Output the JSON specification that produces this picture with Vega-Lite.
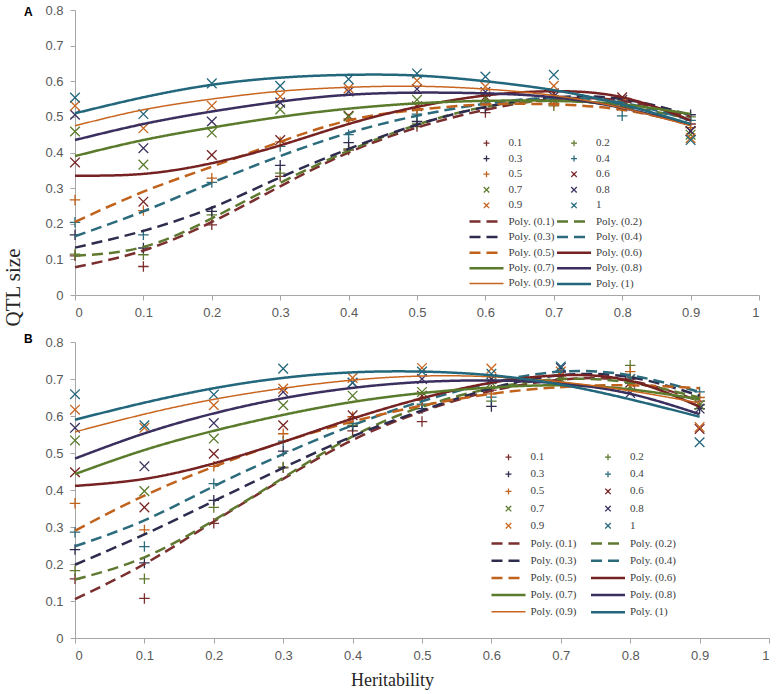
{
  "$schema": "https://vega.github.io/schema/vega-lite/v6.json",
  "padding": {"left": 2, "top": 4, "right": 5, "bottom": 5},
  "bounds": "flush",
  "spacing": 47,
  "config": {
    "view": {"stroke": null},
    "axis": {"grid": false, "domainColor": "#a6a6a6", "tickColor": "#a6a6a6", "labelColor": "#595959", "labelFont": "Liberation Sans", "labelFontSize": 13, "tickSize": 5, "titleFont": "Liberation Serif", "titleFontWeight": "normal", "titleColor": "#262626"},
    "legend": {"labelFont": "Liberation Serif", "labelFontSize": 11, "labelColor": "#404040", "symbolSize": 100, "labelOffset": 15.5, "padding": 0}
  },
  "data": {"values": [
    {"p":"A","k":"0.1","x":0,"y":0.11},{"p":"A","k":"0.2","x":0,"y":0.115},{"p":"A","k":"0.3","x":0,"y":0.169},{"p":"A","k":"0.4","x":0,"y":0.204},{"p":"A","k":"0.5","x":0,"y":0.267},{"p":"A","k":"0.6","x":0,"y":0.372},{"p":"A","k":"0.7","x":0,"y":0.459},{"p":"A","k":"0.8","x":0,"y":0.506},{"p":"A","k":"0.9","x":0,"y":0.531},{"p":"A","k":"1","x":0,"y":0.554},
    {"p":"A","k":"0.1","x":0.1,"y":0.08},{"p":"A","k":"0.2","x":0.1,"y":0.113},{"p":"A","k":"0.3","x":0.1,"y":0.132},{"p":"A","k":"0.4","x":0.1,"y":0.169},{"p":"A","k":"0.5","x":0.1,"y":0.237},{"p":"A","k":"0.6","x":0.1,"y":0.262},{"p":"A","k":"0.7","x":0.1,"y":0.366},{"p":"A","k":"0.8","x":0.1,"y":0.412},{"p":"A","k":"0.9","x":0.1,"y":0.468},{"p":"A","k":"1","x":0.1,"y":0.508},
    {"p":"A","k":"0.1","x":0.2,"y":0.197},{"p":"A","k":"0.2","x":0.2,"y":0.225},{"p":"A","k":"0.3","x":0.2,"y":0.235},{"p":"A","k":"0.4","x":0.2,"y":0.316},{"p":"A","k":"0.5","x":0.2,"y":0.328},{"p":"A","k":"0.6","x":0.2,"y":0.393},{"p":"A","k":"0.7","x":0.2,"y":0.456},{"p":"A","k":"0.8","x":0.2,"y":0.487},{"p":"A","k":"0.9","x":0.2,"y":0.531},{"p":"A","k":"1","x":0.2,"y":0.594},
    {"p":"A","k":"0.1","x":0.3,"y":0.333},{"p":"A","k":"0.2","x":0.3,"y":0.342},{"p":"A","k":"0.3","x":0.3,"y":0.364},{"p":"A","k":"0.4","x":0.3,"y":0.417},{"p":"A","k":"0.5","x":0.3,"y":0.43},{"p":"A","k":"0.6","x":0.3,"y":0.435},{"p":"A","k":"0.7","x":0.3,"y":0.521},{"p":"A","k":"0.8","x":0.3,"y":0.54},{"p":"A","k":"0.9","x":0.3,"y":0.557},{"p":"A","k":"1","x":0.3,"y":0.587},
    {"p":"A","k":"0.1","x":0.4,"y":0.407},{"p":"A","k":"0.2","x":0.4,"y":0.41},{"p":"A","k":"0.3","x":0.4,"y":0.428},{"p":"A","k":"0.4","x":0.4,"y":0.45},{"p":"A","k":"0.5","x":0.4,"y":0.494},{"p":"A","k":"0.6","x":0.4,"y":0.503},{"p":"A","k":"0.7","x":0.4,"y":0.501},{"p":"A","k":"0.8","x":0.4,"y":0.571},{"p":"A","k":"0.9","x":0.4,"y":0.58},{"p":"A","k":"1","x":0.4,"y":0.606},
    {"p":"A","k":"0.1","x":0.5,"y":0.473},{"p":"A","k":"0.2","x":0.5,"y":0.48},{"p":"A","k":"0.3","x":0.5,"y":0.487},{"p":"A","k":"0.4","x":0.5,"y":0.508},{"p":"A","k":"0.5","x":0.5,"y":0.52},{"p":"A","k":"0.6","x":0.5,"y":0.53},{"p":"A","k":"0.7","x":0.5,"y":0.548},{"p":"A","k":"0.8","x":0.5,"y":0.578},{"p":"A","k":"0.9","x":0.5,"y":0.602},{"p":"A","k":"1","x":0.5,"y":0.622},
    {"p":"A","k":"0.1","x":0.6,"y":0.512},{"p":"A","k":"0.2","x":0.6,"y":0.536},{"p":"A","k":"0.3","x":0.6,"y":0.524},{"p":"A","k":"0.4","x":0.6,"y":0.543},{"p":"A","k":"0.5","x":0.6,"y":0.538},{"p":"A","k":"0.6","x":0.6,"y":0.557},{"p":"A","k":"0.7","x":0.6,"y":0.552},{"p":"A","k":"0.8","x":0.6,"y":0.57},{"p":"A","k":"0.9","x":0.6,"y":0.585},{"p":"A","k":"1","x":0.6,"y":0.613},
    {"p":"A","k":"0.1","x":0.7,"y":0.543},{"p":"A","k":"0.2","x":0.7,"y":0.531},{"p":"A","k":"0.3","x":0.7,"y":0.548},{"p":"A","k":"0.4","x":0.7,"y":0.557},{"p":"A","k":"0.5","x":0.7,"y":0.538},{"p":"A","k":"0.6","x":0.7,"y":0.566},{"p":"A","k":"0.7","x":0.7,"y":0.548},{"p":"A","k":"0.8","x":0.7,"y":0.557},{"p":"A","k":"0.9","x":0.7,"y":0.587},{"p":"A","k":"1","x":0.7,"y":0.618},
    {"p":"A","k":"0.1","x":0.8,"y":0.538},{"p":"A","k":"0.2","x":0.8,"y":0.529},{"p":"A","k":"0.3","x":0.8,"y":0.543},{"p":"A","k":"0.4","x":0.8,"y":0.503},{"p":"A","k":"0.5","x":0.8,"y":0.534},{"p":"A","k":"0.6","x":0.8,"y":0.555},{"p":"A","k":"0.7","x":0.8,"y":0.536},{"p":"A","k":"0.8","x":0.8,"y":0.548},{"p":"A","k":"0.9","x":0.8,"y":0.543},{"p":"A","k":"1","x":0.8,"y":0.531},
    {"p":"A","k":"0.1","x":0.9,"y":0.48},{"p":"A","k":"0.2","x":0.9,"y":0.5},{"p":"A","k":"0.3","x":0.9,"y":0.506},{"p":"A","k":"0.4","x":0.9,"y":0.49},{"p":"A","k":"0.5","x":0.9,"y":0.47},{"p":"A","k":"0.6","x":0.9,"y":0.46},{"p":"A","k":"0.7","x":0.9,"y":0.45},{"p":"A","k":"0.8","x":0.9,"y":0.46},{"p":"A","k":"0.9","x":0.9,"y":0.44},{"p":"A","k":"1","x":0.9,"y":0.435},

    {"p":"A","k":"Poly. (0.1)","x":0,"y":0.078},{"p":"A","k":"Poly. (0.1)","x":0.1,"y":0.125},{"p":"A","k":"Poly. (0.1)","x":0.2,"y":0.205},{"p":"A","k":"Poly. (0.1)","x":0.3,"y":0.305},{"p":"A","k":"Poly. (0.1)","x":0.4,"y":0.4},{"p":"A","k":"Poly. (0.1)","x":0.5,"y":0.47},{"p":"A","k":"Poly. (0.1)","x":0.6,"y":0.52},{"p":"A","k":"Poly. (0.1)","x":0.7,"y":0.55},{"p":"A","k":"Poly. (0.1)","x":0.8,"y":0.545},{"p":"A","k":"Poly. (0.1)","x":0.9,"y":0.5},
    {"p":"A","k":"Poly. (0.2)","x":0,"y":0.11},{"p":"A","k":"Poly. (0.2)","x":0.1,"y":0.135},{"p":"A","k":"Poly. (0.2)","x":0.2,"y":0.215},{"p":"A","k":"Poly. (0.2)","x":0.3,"y":0.315},{"p":"A","k":"Poly. (0.2)","x":0.4,"y":0.405},{"p":"A","k":"Poly. (0.2)","x":0.5,"y":0.478},{"p":"A","k":"Poly. (0.2)","x":0.6,"y":0.528},{"p":"A","k":"Poly. (0.2)","x":0.7,"y":0.545},{"p":"A","k":"Poly. (0.2)","x":0.8,"y":0.53},{"p":"A","k":"Poly. (0.2)","x":0.9,"y":0.495},
    {"p":"A","k":"Poly. (0.3)","x":0,"y":0.133},{"p":"A","k":"Poly. (0.3)","x":0.1,"y":0.18},{"p":"A","k":"Poly. (0.3)","x":0.2,"y":0.245},{"p":"A","k":"Poly. (0.3)","x":0.3,"y":0.33},{"p":"A","k":"Poly. (0.3)","x":0.4,"y":0.41},{"p":"A","k":"Poly. (0.3)","x":0.5,"y":0.478},{"p":"A","k":"Poly. (0.3)","x":0.6,"y":0.528},{"p":"A","k":"Poly. (0.3)","x":0.7,"y":0.555},{"p":"A","k":"Poly. (0.3)","x":0.8,"y":0.55},{"p":"A","k":"Poly. (0.3)","x":0.9,"y":0.505},
    {"p":"A","k":"Poly. (0.4)","x":0,"y":0.165},{"p":"A","k":"Poly. (0.4)","x":0.1,"y":0.235},{"p":"A","k":"Poly. (0.4)","x":0.2,"y":0.315},{"p":"A","k":"Poly. (0.4)","x":0.3,"y":0.39},{"p":"A","k":"Poly. (0.4)","x":0.4,"y":0.455},{"p":"A","k":"Poly. (0.4)","x":0.5,"y":0.503},{"p":"A","k":"Poly. (0.4)","x":0.6,"y":0.537},{"p":"A","k":"Poly. (0.4)","x":0.7,"y":0.553},{"p":"A","k":"Poly. (0.4)","x":0.8,"y":0.54},{"p":"A","k":"Poly. (0.4)","x":0.9,"y":0.49},
    {"p":"A","k":"Poly. (0.5)","x":0,"y":0.205},{"p":"A","k":"Poly. (0.5)","x":0.1,"y":0.29},{"p":"A","k":"Poly. (0.5)","x":0.2,"y":0.36},{"p":"A","k":"Poly. (0.5)","x":0.3,"y":0.43},{"p":"A","k":"Poly. (0.5)","x":0.4,"y":0.49},{"p":"A","k":"Poly. (0.5)","x":0.5,"y":0.52},{"p":"A","k":"Poly. (0.5)","x":0.6,"y":0.535},{"p":"A","k":"Poly. (0.5)","x":0.7,"y":0.535},{"p":"A","k":"Poly. (0.5)","x":0.8,"y":0.52},{"p":"A","k":"Poly. (0.5)","x":0.9,"y":0.48},
    {"p":"A","k":"Poly. (0.6)","x":0,"y":0.335},{"p":"A","k":"Poly. (0.6)","x":0.1,"y":0.34},{"p":"A","k":"Poly. (0.6)","x":0.2,"y":0.37},{"p":"A","k":"Poly. (0.6)","x":0.3,"y":0.42},{"p":"A","k":"Poly. (0.6)","x":0.4,"y":0.48},{"p":"A","k":"Poly. (0.6)","x":0.5,"y":0.528},{"p":"A","k":"Poly. (0.6)","x":0.6,"y":0.56},{"p":"A","k":"Poly. (0.6)","x":0.7,"y":0.572},{"p":"A","k":"Poly. (0.6)","x":0.8,"y":0.555},{"p":"A","k":"Poly. (0.6)","x":0.9,"y":0.49},
    {"p":"A","k":"Poly. (0.7)","x":0,"y":0.39},{"p":"A","k":"Poly. (0.7)","x":0.1,"y":0.435},{"p":"A","k":"Poly. (0.7)","x":0.2,"y":0.47},{"p":"A","k":"Poly. (0.7)","x":0.3,"y":0.5},{"p":"A","k":"Poly. (0.7)","x":0.4,"y":0.523},{"p":"A","k":"Poly. (0.7)","x":0.5,"y":0.538},{"p":"A","k":"Poly. (0.7)","x":0.6,"y":0.545},{"p":"A","k":"Poly. (0.7)","x":0.7,"y":0.545},{"p":"A","k":"Poly. (0.7)","x":0.8,"y":0.535},{"p":"A","k":"Poly. (0.7)","x":0.9,"y":0.508},
    {"p":"A","k":"Poly. (0.8)","x":0,"y":0.435},{"p":"A","k":"Poly. (0.8)","x":0.1,"y":0.48},{"p":"A","k":"Poly. (0.8)","x":0.2,"y":0.515},{"p":"A","k":"Poly. (0.8)","x":0.3,"y":0.543},{"p":"A","k":"Poly. (0.8)","x":0.4,"y":0.562},{"p":"A","k":"Poly. (0.8)","x":0.5,"y":0.568},{"p":"A","k":"Poly. (0.8)","x":0.6,"y":0.566},{"p":"A","k":"Poly. (0.8)","x":0.7,"y":0.555},{"p":"A","k":"Poly. (0.8)","x":0.8,"y":0.525},{"p":"A","k":"Poly. (0.8)","x":0.9,"y":0.478},
    {"p":"A","k":"Poly. (0.9)","x":0,"y":0.475},{"p":"A","k":"Poly. (0.9)","x":0.1,"y":0.52},{"p":"A","k":"Poly. (0.9)","x":0.2,"y":0.55},{"p":"A","k":"Poly. (0.9)","x":0.3,"y":0.572},{"p":"A","k":"Poly. (0.9)","x":0.4,"y":0.583},{"p":"A","k":"Poly. (0.9)","x":0.5,"y":0.586},{"p":"A","k":"Poly. (0.9)","x":0.6,"y":0.578},{"p":"A","k":"Poly. (0.9)","x":0.7,"y":0.56},{"p":"A","k":"Poly. (0.9)","x":0.8,"y":0.525},{"p":"A","k":"Poly. (0.9)","x":0.9,"y":0.475},
    {"p":"A","k":"Poly. (1)","x":0,"y":0.51},{"p":"A","k":"Poly. (1)","x":0.1,"y":0.555},{"p":"A","k":"Poly. (1)","x":0.2,"y":0.59},{"p":"A","k":"Poly. (1)","x":0.3,"y":0.61},{"p":"A","k":"Poly. (1)","x":0.4,"y":0.618},{"p":"A","k":"Poly. (1)","x":0.5,"y":0.616},{"p":"A","k":"Poly. (1)","x":0.6,"y":0.6},{"p":"A","k":"Poly. (1)","x":0.7,"y":0.575},{"p":"A","k":"Poly. (1)","x":0.8,"y":0.535},{"p":"A","k":"Poly. (1)","x":0.9,"y":0.48},

    {"p":"B","k":"0.1","x":0,"y":0.16},{"p":"B","k":"0.2","x":0,"y":0.182},{"p":"B","k":"0.3","x":0,"y":0.239},{"p":"B","k":"0.4","x":0,"y":0.286},{"p":"B","k":"0.5","x":0,"y":0.364},{"p":"B","k":"0.6","x":0,"y":0.448},{"p":"B","k":"0.7","x":0,"y":0.534},{"p":"B","k":"0.8","x":0,"y":0.568},{"p":"B","k":"0.9","x":0,"y":0.617},{"p":"B","k":"1","x":0,"y":0.659},
    {"p":"B","k":"0.1","x":0.1,"y":0.107},{"p":"B","k":"0.2","x":0.1,"y":0.16},{"p":"B","k":"0.3","x":0.1,"y":0.203},{"p":"B","k":"0.4","x":0.1,"y":0.247},{"p":"B","k":"0.5","x":0.1,"y":0.292},{"p":"B","k":"0.6","x":0.1,"y":0.353},{"p":"B","k":"0.7","x":0.1,"y":0.397},{"p":"B","k":"0.8","x":0.1,"y":0.464},{"p":"B","k":"0.9","x":0.1,"y":0.568},{"p":"B","k":"1","x":0.1,"y":0.575},
    {"p":"B","k":"0.1","x":0.2,"y":0.31},{"p":"B","k":"0.2","x":0.2,"y":0.353},{"p":"B","k":"0.3","x":0.2,"y":0.372},{"p":"B","k":"0.4","x":0.2,"y":0.417},{"p":"B","k":"0.5","x":0.2,"y":0.464},{"p":"B","k":"0.6","x":0.2,"y":0.498},{"p":"B","k":"0.7","x":0.2,"y":0.539},{"p":"B","k":"0.8","x":0.2,"y":0.581},{"p":"B","k":"0.9","x":0.2,"y":0.629},{"p":"B","k":"1","x":0.2,"y":0.658},
    {"p":"B","k":"0.1","x":0.3,"y":0.46},{"p":"B","k":"0.2","x":0.3,"y":0.462},{"p":"B","k":"0.3","x":0.3,"y":0.505},{"p":"B","k":"0.4","x":0.3,"y":0.532},{"p":"B","k":"0.5","x":0.3,"y":0.552},{"p":"B","k":"0.6","x":0.3,"y":0.575},{"p":"B","k":"0.7","x":0.3,"y":0.629},{"p":"B","k":"0.8","x":0.3,"y":0.665},{"p":"B","k":"0.9","x":0.3,"y":0.674},{"p":"B","k":"1","x":0.3,"y":0.728},
    {"p":"B","k":"0.1","x":0.4,"y":0.56},{"p":"B","k":"0.2","x":0.4,"y":0.575},{"p":"B","k":"0.3","x":0.4,"y":0.572},{"p":"B","k":"0.4","x":0.4,"y":0.58},{"p":"B","k":"0.5","x":0.4,"y":0.598},{"p":"B","k":"0.6","x":0.4,"y":0.602},{"p":"B","k":"0.7","x":0.4,"y":0.655},{"p":"B","k":"0.8","x":0.4,"y":0.69},{"p":"B","k":"0.9","x":0.4,"y":0.703},{"p":"B","k":"1","x":0.4,"y":0.69},
    {"p":"B","k":"0.1","x":0.5,"y":0.585},{"p":"B","k":"0.2","x":0.5,"y":0.63},{"p":"B","k":"0.3","x":0.5,"y":0.62},{"p":"B","k":"0.4","x":0.5,"y":0.632},{"p":"B","k":"0.5","x":0.5,"y":0.642},{"p":"B","k":"0.6","x":0.5,"y":0.655},{"p":"B","k":"0.7","x":0.5,"y":0.665},{"p":"B","k":"0.8","x":0.5,"y":0.7},{"p":"B","k":"0.9","x":0.5,"y":0.73},{"p":"B","k":"1","x":0.5,"y":0.72},
    {"p":"B","k":"0.1","x":0.6,"y":0.67},{"p":"B","k":"0.2","x":0.6,"y":0.64},{"p":"B","k":"0.3","x":0.6,"y":0.626},{"p":"B","k":"0.4","x":0.6,"y":0.651},{"p":"B","k":"0.5","x":0.6,"y":0.66},{"p":"B","k":"0.6","x":0.6,"y":0.7},{"p":"B","k":"0.7","x":0.6,"y":0.69},{"p":"B","k":"0.8","x":0.6,"y":0.7},{"p":"B","k":"0.9","x":0.6,"y":0.728},{"p":"B","k":"1","x":0.6,"y":0.714},
    {"p":"B","k":"0.1","x":0.7,"y":0.69},{"p":"B","k":"0.2","x":0.7,"y":0.69},{"p":"B","k":"0.3","x":0.7,"y":0.7},{"p":"B","k":"0.4","x":0.7,"y":0.72},{"p":"B","k":"0.5","x":0.7,"y":0.69},{"p":"B","k":"0.6","x":0.7,"y":0.71},{"p":"B","k":"0.7","x":0.7,"y":0.7},{"p":"B","k":"0.8","x":0.7,"y":0.73},{"p":"B","k":"0.9","x":0.7,"y":0.72},{"p":"B","k":"1","x":0.7,"y":0.734},
    {"p":"B","k":"0.1","x":0.8,"y":0.7},{"p":"B","k":"0.2","x":0.8,"y":0.737},{"p":"B","k":"0.3","x":0.8,"y":0.69},{"p":"B","k":"0.4","x":0.8,"y":0.705},{"p":"B","k":"0.5","x":0.8,"y":0.72},{"p":"B","k":"0.6","x":0.8,"y":0.69},{"p":"B","k":"0.7","x":0.8,"y":0.68},{"p":"B","k":"0.8","x":0.8,"y":0.662},{"p":"B","k":"0.9","x":0.8,"y":0.7},{"p":"B","k":"1","x":0.8,"y":0.7},
    {"p":"B","k":"0.1","x":0.9,"y":0.64},{"p":"B","k":"0.2","x":0.9,"y":0.63},{"p":"B","k":"0.3","x":0.9,"y":0.62},{"p":"B","k":"0.4","x":0.9,"y":0.665},{"p":"B","k":"0.5","x":0.9,"y":0.65},{"p":"B","k":"0.6","x":0.9,"y":0.565},{"p":"B","k":"0.7","x":0.9,"y":0.63},{"p":"B","k":"0.8","x":0.9,"y":0.62},{"p":"B","k":"0.9","x":0.9,"y":0.57},{"p":"B","k":"1","x":0.9,"y":0.529},

    {"p":"B","k":"Poly. (0.1)","x":0,"y":0.105},{"p":"B","k":"Poly. (0.1)","x":0.1,"y":0.2},{"p":"B","k":"Poly. (0.1)","x":0.2,"y":0.315},{"p":"B","k":"Poly. (0.1)","x":0.3,"y":0.43},{"p":"B","k":"Poly. (0.1)","x":0.4,"y":0.535},{"p":"B","k":"Poly. (0.1)","x":0.5,"y":0.612},{"p":"B","k":"Poly. (0.1)","x":0.6,"y":0.668},{"p":"B","k":"Poly. (0.1)","x":0.7,"y":0.698},{"p":"B","k":"Poly. (0.1)","x":0.8,"y":0.695},{"p":"B","k":"Poly. (0.1)","x":0.9,"y":0.64},
    {"p":"B","k":"Poly. (0.2)","x":0,"y":0.158},{"p":"B","k":"Poly. (0.2)","x":0.1,"y":0.218},{"p":"B","k":"Poly. (0.2)","x":0.2,"y":0.318},{"p":"B","k":"Poly. (0.2)","x":0.3,"y":0.433},{"p":"B","k":"Poly. (0.2)","x":0.4,"y":0.545},{"p":"B","k":"Poly. (0.2)","x":0.5,"y":0.625},{"p":"B","k":"Poly. (0.2)","x":0.6,"y":0.675},{"p":"B","k":"Poly. (0.2)","x":0.7,"y":0.7},{"p":"B","k":"Poly. (0.2)","x":0.8,"y":0.69},{"p":"B","k":"Poly. (0.2)","x":0.9,"y":0.65},
    {"p":"B","k":"Poly. (0.3)","x":0,"y":0.198},{"p":"B","k":"Poly. (0.3)","x":0.1,"y":0.28},{"p":"B","k":"Poly. (0.3)","x":0.2,"y":0.37},{"p":"B","k":"Poly. (0.3)","x":0.3,"y":0.46},{"p":"B","k":"Poly. (0.3)","x":0.4,"y":0.545},{"p":"B","k":"Poly. (0.3)","x":0.5,"y":0.615},{"p":"B","k":"Poly. (0.3)","x":0.6,"y":0.675},{"p":"B","k":"Poly. (0.3)","x":0.7,"y":0.71},{"p":"B","k":"Poly. (0.3)","x":0.8,"y":0.705},{"p":"B","k":"Poly. (0.3)","x":0.9,"y":0.655},
    {"p":"B","k":"Poly. (0.4)","x":0,"y":0.248},{"p":"B","k":"Poly. (0.4)","x":0.1,"y":0.318},{"p":"B","k":"Poly. (0.4)","x":0.2,"y":0.41},{"p":"B","k":"Poly. (0.4)","x":0.3,"y":0.497},{"p":"B","k":"Poly. (0.4)","x":0.4,"y":0.575},{"p":"B","k":"Poly. (0.4)","x":0.5,"y":0.64},{"p":"B","k":"Poly. (0.4)","x":0.6,"y":0.69},{"p":"B","k":"Poly. (0.4)","x":0.7,"y":0.72},{"p":"B","k":"Poly. (0.4)","x":0.8,"y":0.71},{"p":"B","k":"Poly. (0.4)","x":0.9,"y":0.665},
    {"p":"B","k":"Poly. (0.5)","x":0,"y":0.29},{"p":"B","k":"Poly. (0.5)","x":0.1,"y":0.385},{"p":"B","k":"Poly. (0.5)","x":0.2,"y":0.463},{"p":"B","k":"Poly. (0.5)","x":0.3,"y":0.53},{"p":"B","k":"Poly. (0.5)","x":0.4,"y":0.585},{"p":"B","k":"Poly. (0.5)","x":0.5,"y":0.628},{"p":"B","k":"Poly. (0.5)","x":0.6,"y":0.66},{"p":"B","k":"Poly. (0.5)","x":0.7,"y":0.678},{"p":"B","k":"Poly. (0.5)","x":0.8,"y":0.683},{"p":"B","k":"Poly. (0.5)","x":0.9,"y":0.675},
    {"p":"B","k":"Poly. (0.6)","x":0,"y":0.411},{"p":"B","k":"Poly. (0.6)","x":0.1,"y":0.43},{"p":"B","k":"Poly. (0.6)","x":0.2,"y":0.472},{"p":"B","k":"Poly. (0.6)","x":0.3,"y":0.53},{"p":"B","k":"Poly. (0.6)","x":0.4,"y":0.593},{"p":"B","k":"Poly. (0.6)","x":0.5,"y":0.648},{"p":"B","k":"Poly. (0.6)","x":0.6,"y":0.69},{"p":"B","k":"Poly. (0.6)","x":0.7,"y":0.71},{"p":"B","k":"Poly. (0.6)","x":0.8,"y":0.695},{"p":"B","k":"Poly. (0.6)","x":0.9,"y":0.625},
    {"p":"B","k":"Poly. (0.7)","x":0,"y":0.443},{"p":"B","k":"Poly. (0.7)","x":0.1,"y":0.508},{"p":"B","k":"Poly. (0.7)","x":0.2,"y":0.56},{"p":"B","k":"Poly. (0.7)","x":0.3,"y":0.603},{"p":"B","k":"Poly. (0.7)","x":0.4,"y":0.638},{"p":"B","k":"Poly. (0.7)","x":0.5,"y":0.662},{"p":"B","k":"Poly. (0.7)","x":0.6,"y":0.677},{"p":"B","k":"Poly. (0.7)","x":0.7,"y":0.683},{"p":"B","k":"Poly. (0.7)","x":0.8,"y":0.672},{"p":"B","k":"Poly. (0.7)","x":0.9,"y":0.645},
    {"p":"B","k":"Poly. (0.8)","x":0,"y":0.485},{"p":"B","k":"Poly. (0.8)","x":0.1,"y":0.553},{"p":"B","k":"Poly. (0.8)","x":0.2,"y":0.607},{"p":"B","k":"Poly. (0.8)","x":0.3,"y":0.648},{"p":"B","k":"Poly. (0.8)","x":0.4,"y":0.676},{"p":"B","k":"Poly. (0.8)","x":0.5,"y":0.692},{"p":"B","k":"Poly. (0.8)","x":0.6,"y":0.696},{"p":"B","k":"Poly. (0.8)","x":0.7,"y":0.688},{"p":"B","k":"Poly. (0.8)","x":0.8,"y":0.66},{"p":"B","k":"Poly. (0.8)","x":0.9,"y":0.605},
    {"p":"B","k":"Poly. (0.9)","x":0,"y":0.557},{"p":"B","k":"Poly. (0.9)","x":0.1,"y":0.605},{"p":"B","k":"Poly. (0.9)","x":0.2,"y":0.645},{"p":"B","k":"Poly. (0.9)","x":0.3,"y":0.675},{"p":"B","k":"Poly. (0.9)","x":0.4,"y":0.697},{"p":"B","k":"Poly. (0.9)","x":0.5,"y":0.708},{"p":"B","k":"Poly. (0.9)","x":0.6,"y":0.706},{"p":"B","k":"Poly. (0.9)","x":0.7,"y":0.692},{"p":"B","k":"Poly. (0.9)","x":0.8,"y":0.668},{"p":"B","k":"Poly. (0.9)","x":0.9,"y":0.635},
    {"p":"B","k":"Poly. (1)","x":0,"y":0.59},{"p":"B","k":"Poly. (1)","x":0.1,"y":0.636},{"p":"B","k":"Poly. (1)","x":0.2,"y":0.675},{"p":"B","k":"Poly. (1)","x":0.3,"y":0.703},{"p":"B","k":"Poly. (1)","x":0.4,"y":0.718},{"p":"B","k":"Poly. (1)","x":0.5,"y":0.72},{"p":"B","k":"Poly. (1)","x":0.6,"y":0.71},{"p":"B","k":"Poly. (1)","x":0.7,"y":0.685},{"p":"B","k":"Poly. (1)","x":0.8,"y":0.645},{"p":"B","k":"Poly. (1)","x":0.9,"y":0.598}
  ]},
  "resolve": {
    "scale": {"x": "independent", "y": "independent", "color": "independent", "shape": "independent", "strokeDash": "independent", "strokeWidth": "independent"},
    "legend": {"color": "independent", "shape": "independent", "strokeDash": "independent", "strokeWidth": "independent"}
  },
  "vconcat": [
    {
      "width": 684,
      "height": 285,
      "title": {"text": "A", "anchor": "start", "frame": "group", "dx": -51, "dy": 20, "offset": 0, "baseline": "middle", "fontSize": 12, "fontWeight": "bold", "font": "Liberation Sans", "color": "#000000"},
      "transform": [{"filter": "datum.p === 'A'"}],
      "encoding": {
        "x": {"field": "x", "type": "quantitative", "scale": {"domain": [0, 1], "nice": false}, "axis": {"title": null, "values": [0, 0.1, 0.2, 0.3, 0.4, 0.5, 0.6, 0.7, 0.8, 0.9, 1], "format": "~g", "labelPadding": 6}},
        "y": {"field": "y", "type": "quantitative", "scale": {"domain": [0, 0.8], "nice": false}, "axis": {"title": "QTL size", "values": [0, 0.1, 0.2, 0.3, 0.4, 0.5, 0.6, 0.7, 0.8], "format": "~g", "labelPadding": 7, "titleX": -62, "titleY": 277, "titleAngle": 270, "titleBaseline": "middle", "titleAlign": "center", "titleFontSize": 21}},
        "color": {"field": "k", "type": "nominal", "scale": {"domain": ["0.1","0.3","0.5","0.7","0.9","Poly. (0.1)","Poly. (0.3)","Poly. (0.5)","Poly. (0.7)","Poly. (0.9)","0.2","0.4","0.6","0.8","1","Poly. (0.2)","Poly. (0.4)","Poly. (0.6)","Poly. (0.8)","Poly. (1)"], "range": ["#7a2e2e","#2e2c4e","#c0621c","#5b7b2c","#c8651f","#7a2e2e","#2e2c4e","#c0621c","#5b7b2c","#c8651f","#5f7a30","#2b6b7c","#762222","#3a2f5e","#23677c","#5f7a30","#2b6b7c","#762222","#3a2f5e","#23677c"]}, "legend": {"title": null, "orient": "none", "legendX": 405, "legendY": 127, "columns": 2, "rowPadding": 3.6, "columnPadding": -3.5, "symbolSize": 100, "labelOffset": 15.5}},
        "strokeWidth": {"field": "k", "type": "nominal", "scale": {"type": "ordinal", "domain": ["0.1","0.3","0.5","0.7","0.9","Poly. (0.1)","Poly. (0.3)","Poly. (0.5)","Poly. (0.7)","Poly. (0.9)","0.2","0.4","0.6","0.8","1","Poly. (0.2)","Poly. (0.4)","Poly. (0.6)","Poly. (0.8)","Poly. (1)"], "range": [1.3,1.3,1.3,1.3,1.3,2.5,2.5,2.5,2.5,1.5,1.3,1.3,1.3,1.3,1.3,2.5,2.5,2.5,2.5,2.5]}}
      },
      "layer": [
        {
          "transform": [{"filter": "indexof(datum.k, 'Poly') < 0"}],
          "mark": {"type": "point", "filled": false, "size": 306, "opacity": 1},
          "encoding": {
            "shape": {"field": "k", "type": "nominal", "scale": {"domain": ["0.1","0.3","0.5","0.7","0.9","Poly. (0.1)","Poly. (0.3)","Poly. (0.5)","Poly. (0.7)","Poly. (0.9)","0.2","0.4","0.6","0.8","1","Poly. (0.2)","Poly. (0.4)","Poly. (0.6)","Poly. (0.8)","Poly. (1)"], "range": ["M-0.6,0H0.6M0,-0.6V0.6","M-0.6,0H0.6M0,-0.6V0.6","M-0.6,0H0.6M0,-0.6V0.6","M-0.55,-0.55L0.55,0.55M0.55,-0.55L-0.55,0.55","M-0.55,-0.55L0.55,0.55M0.55,-0.55L-0.55,0.55","M-3.4,0H3.4","M-3.4,0H3.4","M-3.4,0H3.4","M-3.4,0H3.4","M-3.4,0H3.4","M-0.6,0H0.6M0,-0.6V0.6","M-0.6,0H0.6M0,-0.6V0.6","M-0.55,-0.55L0.55,0.55M0.55,-0.55L-0.55,0.55","M-0.55,-0.55L0.55,0.55M0.55,-0.55L-0.55,0.55","M-0.55,-0.55L0.55,0.55M0.55,-0.55L-0.55,0.55","M-3.4,0H3.4","M-3.4,0H3.4","M-3.4,0H3.4","M-3.4,0H3.4","M-3.4,0H3.4"]}}
          }
        },
        {
          "transform": [{"filter": "indexof(datum.k, 'Poly') >= 0"}],
          "mark": {"type": "line", "interpolate": "natural"},
          "encoding": {
            "strokeDash": {"field": "k", "type": "nominal", "scale": {"domain": ["0.1","0.3","0.5","0.7","0.9","Poly. (0.1)","Poly. (0.3)","Poly. (0.5)","Poly. (0.7)","Poly. (0.9)","0.2","0.4","0.6","0.8","1","Poly. (0.2)","Poly. (0.4)","Poly. (0.6)","Poly. (0.8)","Poly. (1)"], "range": [[1,0],[1,0],[1,0],[1,0],[1,0],[11,6],[11,6],[11,6],[1,0],[1,0],[1,0],[1,0],[1,0],[1,0],[1,0],[11,6],[11,6],[1,0],[1,0],[1,0]]}}
          }
        }
      ]
    },
    {
      "width": 694,
      "height": 296,
      "title": {"text": "B", "anchor": "start", "frame": "group", "dx": -51, "dy": 15, "offset": 0, "baseline": "middle", "fontSize": 12, "fontWeight": "bold", "font": "Liberation Sans", "color": "#000000"},
      "transform": [{"filter": "datum.p === 'B'"}],
      "encoding": {
        "x": {"field": "x", "type": "quantitative", "scale": {"domain": [0, 1], "nice": false}, "axis": {"title": "Heritability", "values": [0, 0.1, 0.2, 0.3, 0.4, 0.5, 0.6, 0.7, 0.8, 0.9, 1], "format": "~g", "labelPadding": 6, "titleX": 317, "titleY": 42, "titleBaseline": "middle", "titleAlign": "center", "titleFontSize": 18}},
        "y": {"field": "y", "type": "quantitative", "scale": {"domain": [0, 0.8], "nice": false}, "axis": {"title": null, "values": [0, 0.1, 0.2, 0.3, 0.4, 0.5, 0.6, 0.7, 0.8], "format": "~g", "labelPadding": 7}},
        "color": {"field": "k", "type": "nominal", "scale": {"domain": ["0.1","0.3","0.5","0.7","0.9","Poly. (0.1)","Poly. (0.3)","Poly. (0.5)","Poly. (0.7)","Poly. (0.9)","0.2","0.4","0.6","0.8","1","Poly. (0.2)","Poly. (0.4)","Poly. (0.6)","Poly. (0.8)","Poly. (1)"], "range": ["#7a2e2e","#2e2c4e","#c0621c","#5b7b2c","#c8651f","#7a2e2e","#2e2c4e","#c0621c","#5b7b2c","#c8651f","#5f7a30","#2b6b7c","#762222","#3a2f5e","#23677c","#5f7a30","#2b6b7c","#762222","#3a2f5e","#23677c"]}, "legend": {"title": null, "orient": "none", "legendX": 427, "legendY": 109, "columns": 2, "rowPadding": 5.2, "columnPadding": 8.5, "symbolSize": 100, "labelOffset": 15.5}},
        "strokeWidth": {"field": "k", "type": "nominal", "scale": {"type": "ordinal", "domain": ["0.1","0.3","0.5","0.7","0.9","Poly. (0.1)","Poly. (0.3)","Poly. (0.5)","Poly. (0.7)","Poly. (0.9)","0.2","0.4","0.6","0.8","1","Poly. (0.2)","Poly. (0.4)","Poly. (0.6)","Poly. (0.8)","Poly. (1)"], "range": [1.3,1.3,1.3,1.3,1.3,2.5,2.5,2.5,2.5,1.5,1.3,1.3,1.3,1.3,1.3,2.5,2.5,2.5,2.5,2.5]}}
      },
      "layer": [
        {
          "transform": [{"filter": "indexof(datum.k, 'Poly') < 0"}],
          "mark": {"type": "point", "filled": false, "size": 306, "opacity": 1},
          "encoding": {
            "shape": {"field": "k", "type": "nominal", "scale": {"domain": ["0.1","0.3","0.5","0.7","0.9","Poly. (0.1)","Poly. (0.3)","Poly. (0.5)","Poly. (0.7)","Poly. (0.9)","0.2","0.4","0.6","0.8","1","Poly. (0.2)","Poly. (0.4)","Poly. (0.6)","Poly. (0.8)","Poly. (1)"], "range": ["M-0.6,0H0.6M0,-0.6V0.6","M-0.6,0H0.6M0,-0.6V0.6","M-0.6,0H0.6M0,-0.6V0.6","M-0.55,-0.55L0.55,0.55M0.55,-0.55L-0.55,0.55","M-0.55,-0.55L0.55,0.55M0.55,-0.55L-0.55,0.55","M-3.4,0H3.4","M-3.4,0H3.4","M-3.4,0H3.4","M-3.4,0H3.4","M-3.4,0H3.4","M-0.6,0H0.6M0,-0.6V0.6","M-0.6,0H0.6M0,-0.6V0.6","M-0.55,-0.55L0.55,0.55M0.55,-0.55L-0.55,0.55","M-0.55,-0.55L0.55,0.55M0.55,-0.55L-0.55,0.55","M-0.55,-0.55L0.55,0.55M0.55,-0.55L-0.55,0.55","M-3.4,0H3.4","M-3.4,0H3.4","M-3.4,0H3.4","M-3.4,0H3.4","M-3.4,0H3.4"]}}
          }
        },
        {
          "transform": [{"filter": "indexof(datum.k, 'Poly') >= 0"}],
          "mark": {"type": "line", "interpolate": "natural"},
          "encoding": {
            "strokeDash": {"field": "k", "type": "nominal", "scale": {"domain": ["0.1","0.3","0.5","0.7","0.9","Poly. (0.1)","Poly. (0.3)","Poly. (0.5)","Poly. (0.7)","Poly. (0.9)","0.2","0.4","0.6","0.8","1","Poly. (0.2)","Poly. (0.4)","Poly. (0.6)","Poly. (0.8)","Poly. (1)"], "range": [[1,0],[1,0],[1,0],[1,0],[1,0],[11,6],[11,6],[11,6],[1,0],[1,0],[1,0],[1,0],[1,0],[1,0],[1,0],[11,6],[11,6],[1,0],[1,0],[1,0]]}}
          }
        }
      ]
    }
  ]
}
